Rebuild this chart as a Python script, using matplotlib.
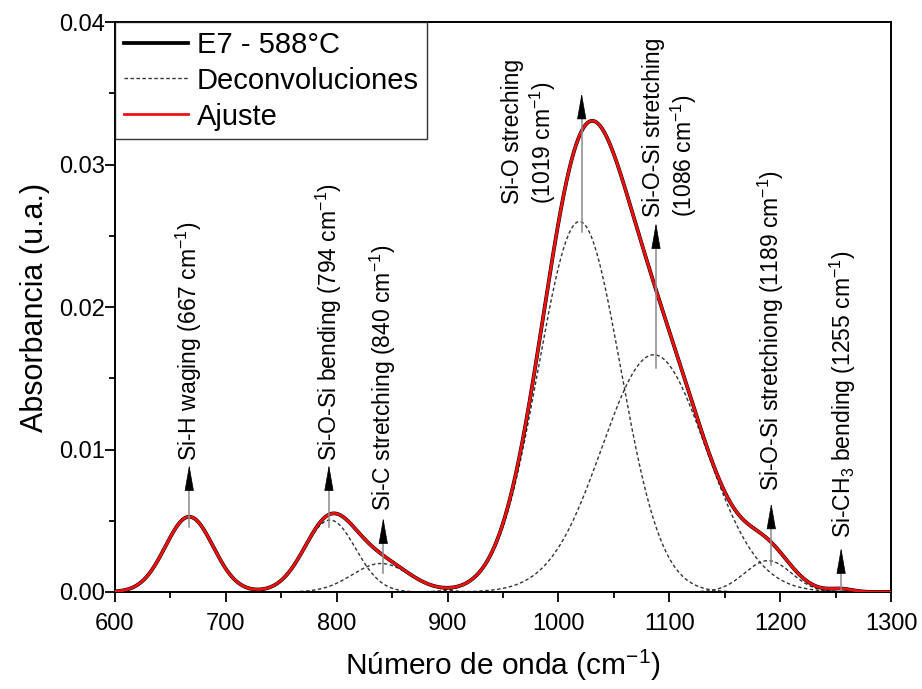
import numpy as np
import matplotlib
matplotlib.use("Agg")
import matplotlib.pyplot as plt
from matplotlib.ticker import MultipleLocator

plt.rcParams['font.family'] = ['Liberation Sans', 'DejaVu Sans']
plt.rcParams['mathtext.default'] = 'regular'

# Gaussian components of the deconvolution (center in cm-1, amplitude, sigma)
centers = [667, 794, 840, 1019, 1086, 1189, 1255]
amplitudes = [0.00528, 0.00505, 0.00200, 0.02600, 0.01665, 0.00220, 0.00020]
sigmas = [21.5, 23.0, 26.0, 37.0, 47.0, 21.0, 10.0]

# Band labels with their arrows (x, tail y, tip y), text base y and text x
band_labels = [
    "Si-H waging (667 cm$^{-1}$)",
    "Si-O-Si bending (794 cm$^{-1}$)",
    "Si-C stretching (840 cm$^{-1}$)",
    "Si-O streching\n(1019 cm$^{-1}$)",
    "Si-O-Si stretching\n(1086 cm$^{-1}$)",
    "Si-O-Si stretchiong (1189 cm$^{-1}$)",
    "Si-CH$_3$ bending (1255 cm$^{-1}$)",
]
arrow_x = [667, 793, 842, 1021, 1088, 1192, 1255]
arrow_tail = [0.00459, 0.00459, 0.00133, 0.0253, 0.0157, 0.0019, 0.00014]
arrow_tip = [0.00892, 0.00892, 0.00520, 0.0350, 0.0259, 0.00623, 0.0031]
text_base = [0.0092, 0.0092, 0.0057, 0.0272, 0.0263, 0.0071, 0.0038]
text_x = [667, 793, 842, 974, 1101, 1192, 1257]

x = np.linspace(600, 1300, 1401)
components = [a * np.exp(-(x - c) ** 2 / (2 * s ** 2))
              for c, a, s in zip(centers, amplitudes, sigmas)]
fit = np.sum(components, axis=0)

fig = plt.figure(figsize=(9.22, 6.89), dpi=100)
ax = fig.add_axes([0.1247, 0.1408, 0.8417, 0.8272])

ax.plot(x, fit, color='black', lw=2.7, label='E7 - 588°C', zorder=3)
for i, comp in enumerate(components):
    ax.plot(x, comp, color='#333333', lw=1.0, ls=(0, (2.5, 1.8)),
            label='Deconvoluciones' if i == 0 else None, zorder=2)
ax.plot(x, fit, color='#ee1111', lw=2.0, label='Ajuste', zorder=4)

head_len = 0.0016
for lab, ax_x, tail, tip, base, tx in zip(band_labels, arrow_x, arrow_tail,
                                          arrow_tip, text_base, text_x):
    ax.plot([ax_x, ax_x], [tail, tip - head_len * 0.5], color='#8a8a8a',
            lw=1.1, zorder=5)
    ax.annotate('', xy=(ax_x, tip), xytext=(ax_x, tip - head_len),
                arrowprops=dict(arrowstyle='-|>,head_length=1.7,head_width=0.3',
                                color='black', lw=0.5, mutation_scale=10,
                                shrinkA=0, shrinkB=0), zorder=6)
    ax.text(tx, base, lab, rotation=90, ha='center', va='bottom',
            fontsize=16.5, multialignment='left', linespacing=1.15,
            zorder=6)

ax.set_xlim(600, 1300)
ax.set_ylim(0, 0.04)
ax.xaxis.set_major_locator(MultipleLocator(100))
ax.xaxis.set_minor_locator(MultipleLocator(50))
ax.yaxis.set_major_locator(MultipleLocator(0.01))
ax.yaxis.set_minor_locator(MultipleLocator(0.005))
ax.yaxis.set_major_formatter(plt.FuncFormatter(lambda v, p: f"{v:.2f}"))
ax.tick_params(which='both', direction='out', top=False, right=False,
               width=1.3, labelsize=17)
ax.tick_params(axis='x', which='major', pad=8)
ax.tick_params(axis='y', which='major', pad=0.5)
ax.tick_params(which='major', length=7)
ax.tick_params(which='minor', length=4)
for sp in ax.spines.values():
    sp.set_linewidth(1.4)

ax.set_xlabel('Número de onda (cm$^{-1}$)', fontsize=21.5, labelpad=9)
ax.set_ylabel('Absorbancia (u.a.)', fontsize=22, labelpad=6)

leg = ax.legend(loc='upper left', fontsize=21, frameon=True, fancybox=False,
                edgecolor='black', borderaxespad=0, handlelength=2.2,
                handletextpad=0.3, borderpad=0.3, labelspacing=0.27)
leg.get_frame().set_linewidth(1.0)
leg.set_zorder(10)

fig.savefig('out.png', dpi=100)
